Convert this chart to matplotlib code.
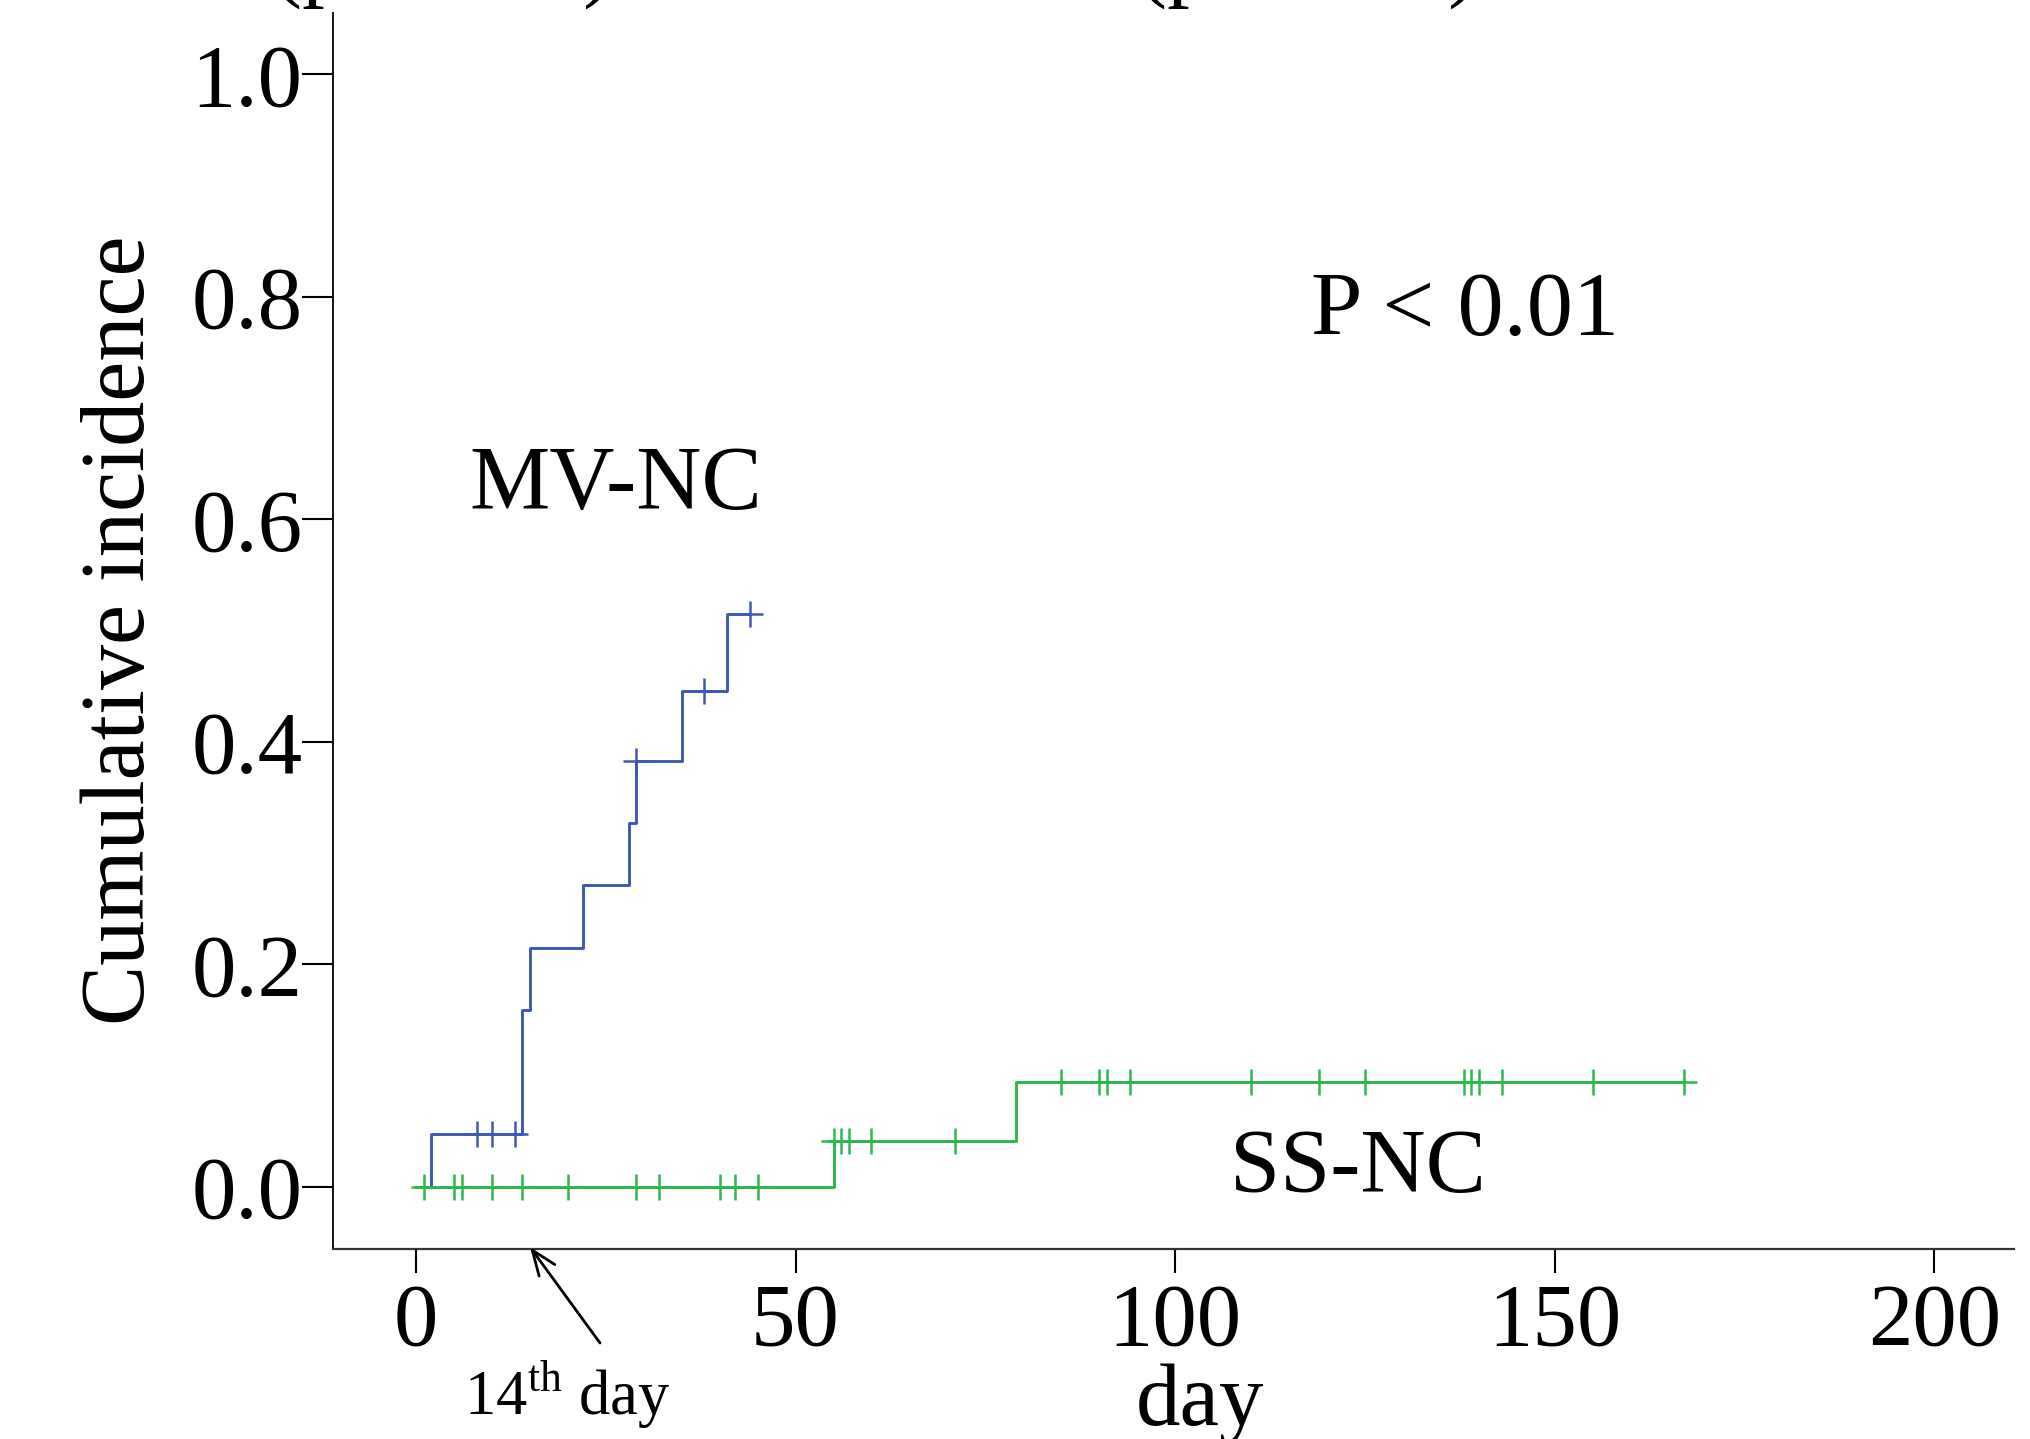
import numpy as np
import matplotlib
matplotlib.use('Agg')
import matplotlib.pyplot as plt

plt.rcParams['font.family'] = ['Liberation Serif', 'DejaVu Serif']
plt.rcParams['mathtext.fontset'] = 'custom'
plt.rcParams['mathtext.rm'] = 'Liberation Serif'

W, H = 2031, 1439
DPI = 100

# ---- data ----
mv_event_days = [0, 2, 14, 15, 22, 28, 29, 35, 41]
mv_cuminc = [0.0, 0.047, 0.159, 0.215, 0.271, 0.327, 0.383, 0.446, 0.515]
mv_last_day = 44
mv_censor_days = [8, 10, 13, 29, 38, 44]

ss_event_days = [0, 55, 79]
ss_cuminc = [0.0, 0.041, 0.094]
ss_last_day = 167
ss_censor_days = [1, 5, 6, 10, 14, 20, 29, 32, 40, 42, 45,
                  55, 56, 57, 60, 71,
                  85, 90, 91, 94, 110, 119, 125, 138, 139, 140, 143, 155, 167]

x_ticks = [0, 50, 100, 150, 200]
x_tick_labels = ['0', '50', '100', '150', '200']
y_ticks = [0.0, 0.2, 0.4, 0.6, 0.8, 1.0]
y_tick_labels = ['0.0', '0.2', '0.4', '0.6', '0.8', '1.0']

BLUE = '#3D58B5'
GREEN = '#2DB84B'


def px(x, y):
    return x / W, 1 - y / H


def censor_values(event_days, cuminc, days):
    idx = np.searchsorted(np.asarray(event_days), np.asarray(days), side='right') - 1
    return np.asarray(cuminc)[idx]


fig = plt.figure(figsize=(W / DPI, H / DPI), dpi=DPI)
ax = fig.add_axes([333 / W, 1 - 1249 / H, (2014 - 333) / W, (1249 - 13) / H])

# MV-NC
ax.step(mv_event_days + [mv_last_day], mv_cuminc + [mv_cuminc[-1]], where='post',
        color=BLUE, lw=2.1, zorder=2)
ax.plot(mv_censor_days, censor_values(mv_event_days, mv_cuminc, mv_censor_days),
        ls='none', marker='+', ms=19, mew=1.8, color=BLUE, zorder=3)

# SS-NC
ax.step(ss_event_days + [ss_last_day], ss_cuminc + [ss_cuminc[-1]], where='post',
        color=GREEN, lw=2.1, zorder=4)
ax.plot(ss_censor_days, censor_values(ss_event_days, ss_cuminc, ss_censor_days),
        ls='none', marker='+', ms=19, mew=1.8, color=GREEN, zorder=5)

ax.set_xlim(-10.93, 210.5)
ax.set_ylim(-0.056, 1.055)
ax.set_xticks(x_ticks)
ax.set_xticklabels(x_tick_labels)
ax.set_yticks(y_ticks)
ax.set_yticklabels(y_tick_labels)

for s in ['top', 'right']:
    ax.spines[s].set_visible(False)
ax.spines['left'].set_linewidth(1.3)
ax.spines['bottom'].set_linewidth(1.6)
ax.spines['bottom'].set_color('#333333')

ax.tick_params(axis='x', direction='out', length=17, width=1.5, pad=7, labelsize=64)
ax.tick_params(axis='y', direction='out', length=22, width=1.5, pad=0, labelsize=64)

# axis labels
fig.text(*px(122, 630), 'Cumulative incidence', rotation=90, ha='center', va='center',
         fontsize=65)
fig.text(*px(1200, 1425), 'day', ha='center', va='baseline', fontsize=64)

# annotations
fig.text(*px(1311, 335), 'P < 0.01', ha='left', va='baseline', fontsize=66.5)
fig.text(*px(469, 509), 'MV-NC', ha='left', va='baseline', fontsize=65)
fig.text(*px(1230, 1192), 'SS-NC', ha='left', va='baseline', fontsize=65)

fig.text(*px(464, 1415), '14$^{\\rm th}$ day', ha='left', va='baseline', fontsize=45)
ax.annotate('', xy=px(530, 1247), xycoords='figure fraction',
            xytext=px(600, 1343), textcoords='figure fraction',
            arrowprops=dict(arrowstyle='->,head_length=0.9,head_width=0.35',
                            lw=2.0, color='black', mutation_scale=20,
                            shrinkA=0, shrinkB=0),
            annotation_clip=False)

# cut-off text at the very top
fig.text(*px(272, -10), '(patients)', ha='left', va='baseline', fontsize=65)
fig.text(*px(1137, -10), '(patients)', ha='left', va='baseline', fontsize=65)

fig.savefig('out.png', dpi=DPI)
